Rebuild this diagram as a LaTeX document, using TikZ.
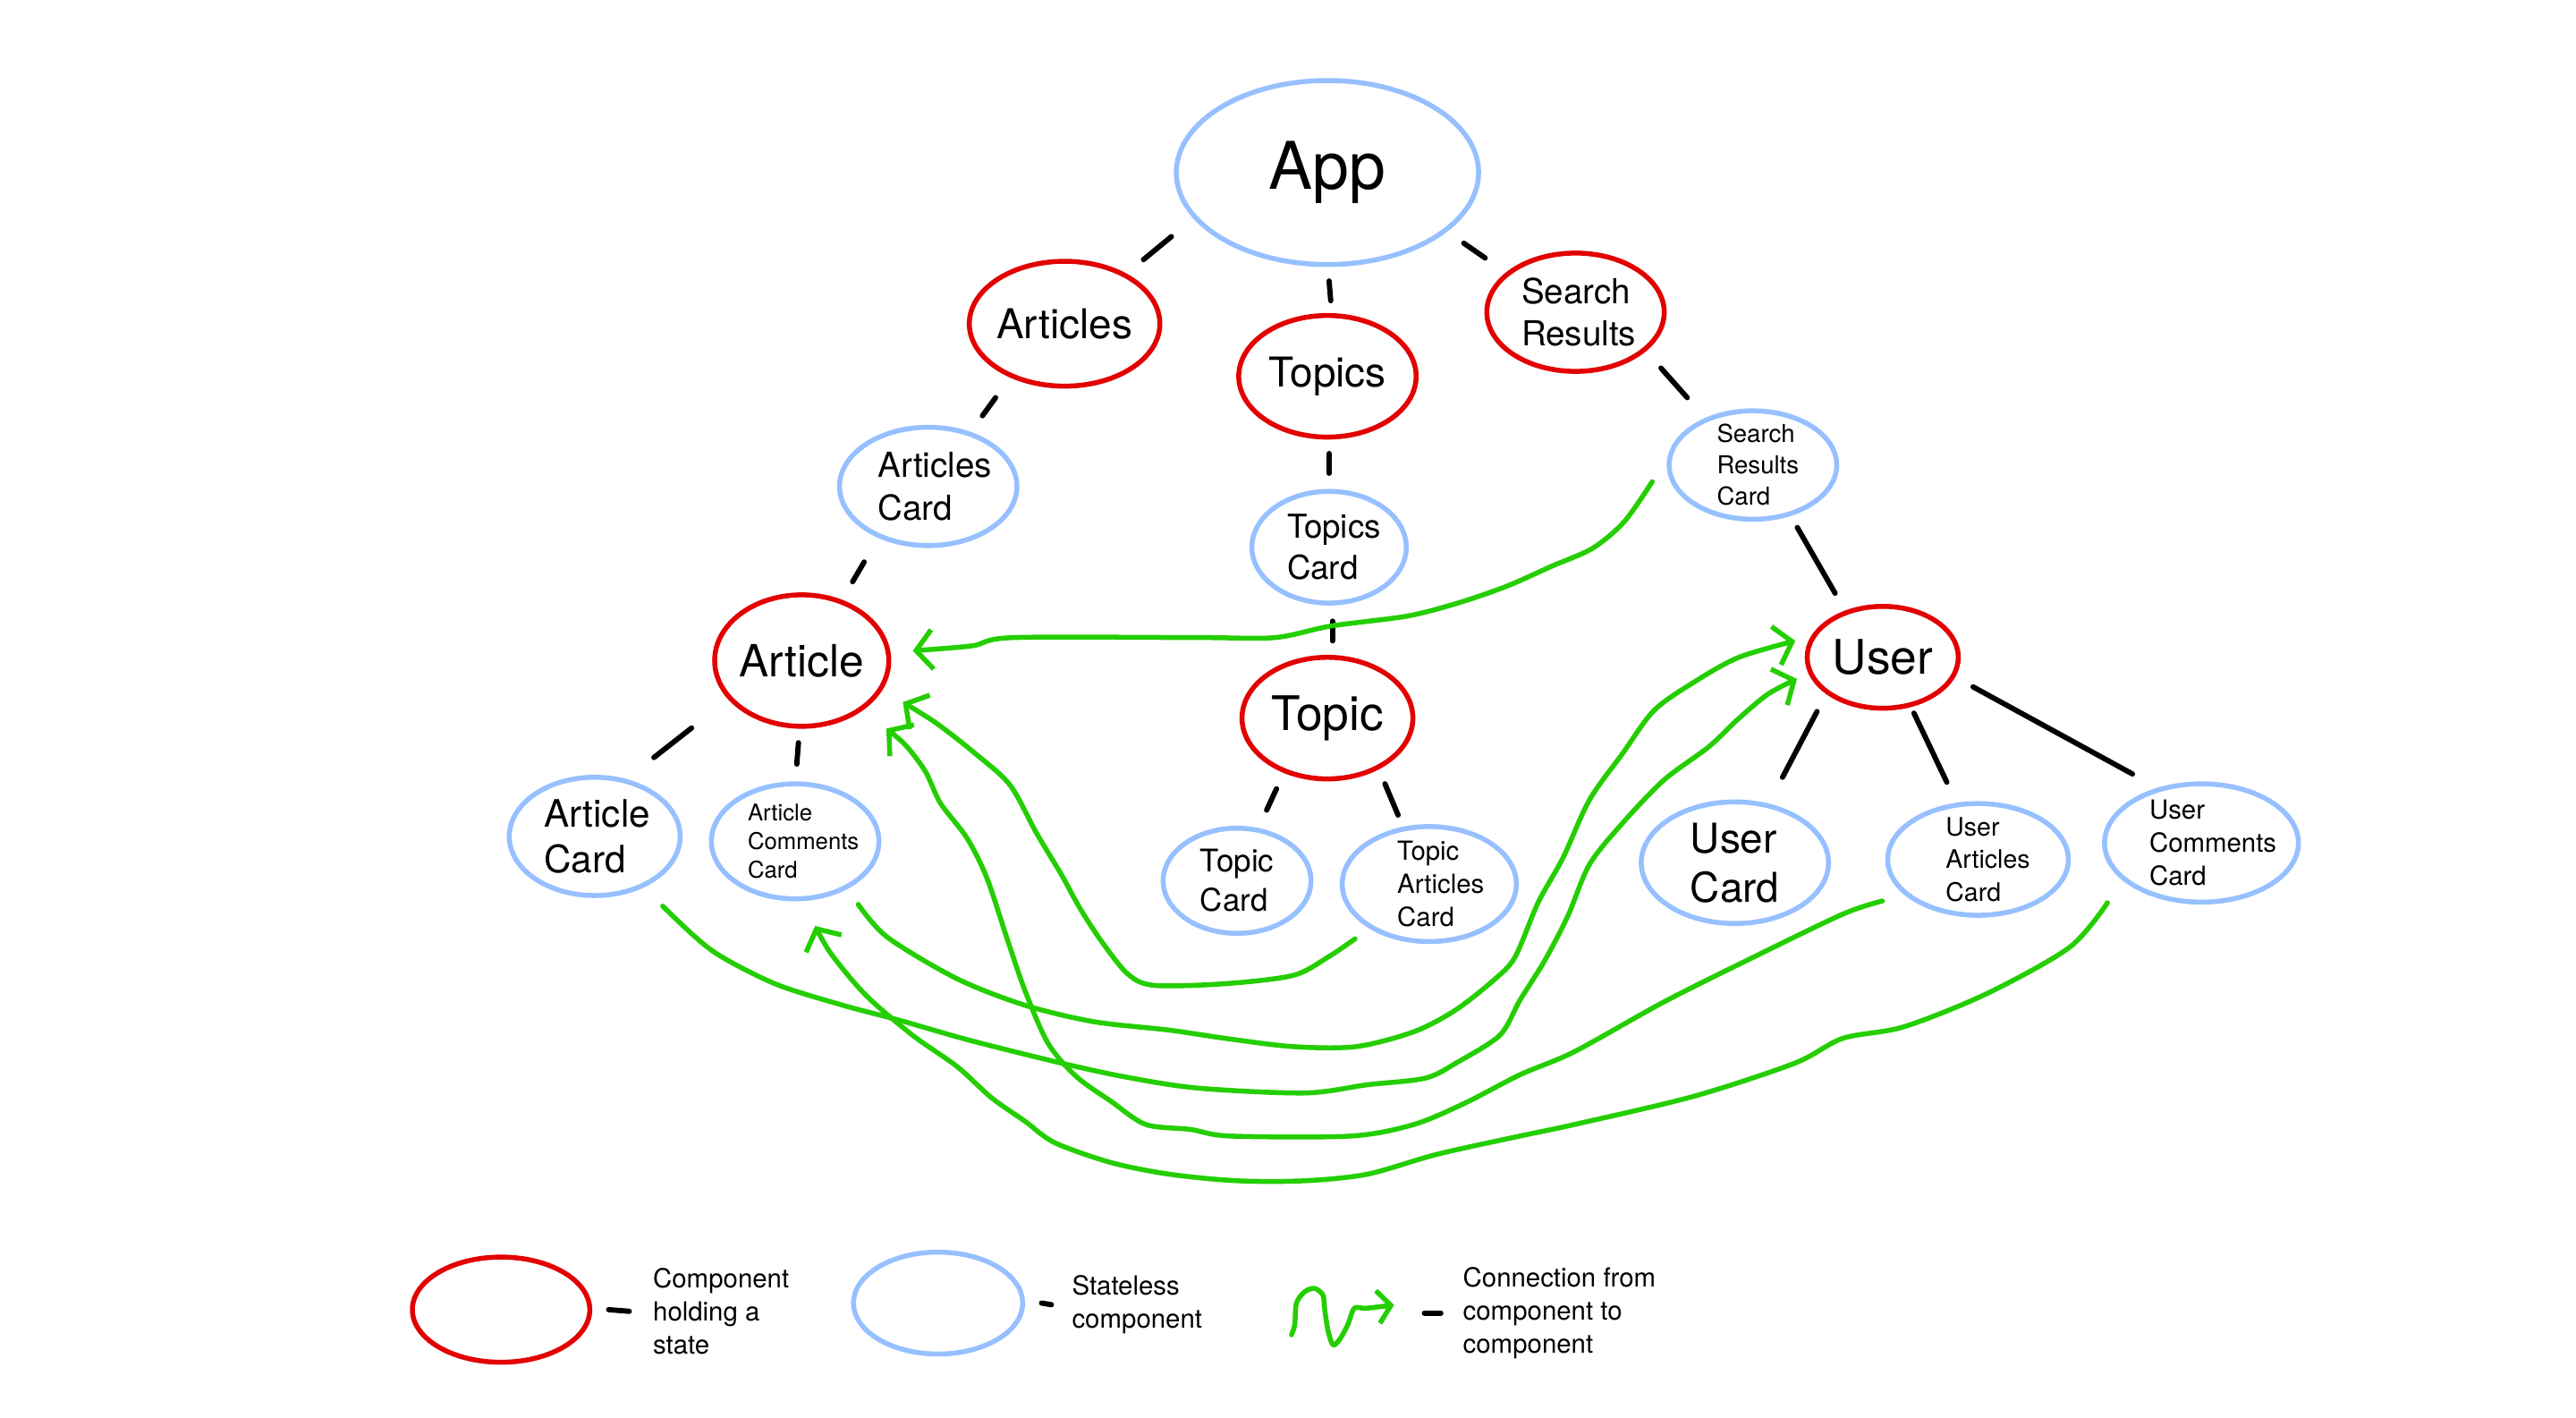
\documentclass[tikz,border=0pt]{standalone}
\usepackage{fontspec}
\setmainfont{TeX Gyre Heros}
\usetikzlibrary{shapes.geometric,arrows.meta,calc}
\definecolor{stred}{RGB}{226,0,0}
\definecolor{slblue}{RGB}{150,192,255}
\definecolor{cngreen}{RGB}{36,206,0}
\newcommand\lpad[1]{\hspace*{#1}}
\begin{document}
\begin{tikzpicture}[x=1pt,y=-1pt,
  fs/.style 2 args={font=\fontsize{#1}{#2}\selectfont},
  comp/.style={ellipse, line width=3pt, inner sep=-12pt, align=left, text=black},
  stateful/.style={comp, draw=stred},
  stateless/.style={comp, draw=slblue},
  edge/.style={line width=3.2pt, line cap=round, black},
  conn/.style={draw=cngreen, line width=3pt, line cap=round, line join=round,
    -{Straight Barb[length=10pt,width=24pt]}},
  legtext/.style={anchor=west, align=left, fs={16}{20}}
]
\useasboundingbox[fill=white] (0,0) rectangle (1568,862.4);

% ---------- components ----------
\node[stateless, minimum width=184pt, minimum height=112pt, fs={40}{48}] (app) at (808,105) {App};
\node[stateful, minimum width=116pt, minimum height=76pt, fs={25}{30}] (articles) at (648,197) {Articles};
\node[stateful, minimum width=108pt, minimum height=74pt, fs={25}{30}] (topics) at (808,229) {Topics};
\node[stateful, minimum width=108pt, minimum height=72pt, fs={21}{26}] (search) at (959,190) {\lpad{4pt}Search\\\lpad{4pt}Results};
\node[stateless, minimum width=108pt, minimum height=72pt, fs={21}{26}] (articlescard) at (565,296) {\lpad{8pt}Articles\\\lpad{8pt}Card};
\node[stateless, minimum width=94pt, minimum height=68pt, fs={20}{25}] (topicscard) at (809,333) {\lpad{6pt}Topics\\\lpad{6pt}Card};
\node[stateless, minimum width=102pt, minimum height=66pt, fs={15}{19}] (src) at (1067,283) {\lpad{6pt}Search\\\lpad{6pt}Results\\\lpad{6pt}Card};
\node[stateful, minimum width=106pt, minimum height=80pt, fs={27}{32}] (article) at (488,402) {Article};
\node[stateful, minimum width=104pt, minimum height=74pt, fs={29}{34}] (topic) at (808,437) {Topic};
\node[stateful, minimum width=92pt, minimum height=62pt, fs={29}{34}] (user) at (1146,400) {User};
\node[stateless, minimum width=104pt, minimum height=72pt, fs={23}{28}] (articlecard) at (362,509) {\lpad{3pt}Article\\\lpad{3pt}Card};
\node[stateless, minimum width=102pt, minimum height=70pt, fs={14}{17.5}] (acc) at (484,512) {\lpad{10pt}Article\\\lpad{10pt}Comments\\\lpad{10pt}Card};
\node[stateless, minimum width=90pt, minimum height=64pt, fs={19}{24}] (topiccard) at (753,536) {Topic\\Card};
\node[stateless, minimum width=106pt, minimum height=70pt, fs={16}{20}] (tac) at (870,538) {\lpad{14pt}Topic\\\lpad{14pt}Articles\\\lpad{14pt}Card};
\node[stateless, minimum width=114pt, minimum height=74pt, fs={25}{30}] (usercard) at (1056,525) {User\\Card};
\node[stateless, minimum width=110pt, minimum height=68pt, fs={15.5}{20}] (uac) at (1204,523) {\lpad{12pt}User\\\lpad{12pt}Articles\\\lpad{12pt}Card};
\node[stateless, minimum width=118pt, minimum height=72pt, fs={16}{20}] (ucc) at (1340,513) {\lpad{14pt}User\\\lpad{14pt}Comments\\\lpad{14pt}Card};

% ---------- hierarchy links ----------
\draw[edge] ([shift={(-95,39)}]app.center) -- ([shift={(48,-39)}]articles.center);
\draw[edge] ([shift={(1,66)}]app.center) -- ([shift={(2,-46)}]topics.center);
\draw[edge] ([shift={(83,43)}]app.center) -- ([shift={(-55,-33)}]search.center);
\draw[edge] ([shift={(-42,45)}]articles.center) -- ([shift={(33,-43)}]articlescard.center);
\draw[edge] ([shift={(1,47)}]topics.center) -- ([shift={(0,-45)}]topicscard.center);
\draw[edge] ([shift={(52,34)}]search.center) -- ([shift={(-40,-41)}]src.center);
\draw[edge] ([shift={(-39,46)}]articlescard.center) -- ([shift={(31,-48)}]article.center);
\draw[edge] ([shift={(2,45)}]topicscard.center) -- ([shift={(3,-47)}]topic.center);
\draw[edge] ([shift={(27,38)}]src.center) -- ([shift={(-29,-39)}]user.center);
\draw[edge] ([shift={(-67,41)}]article.center) -- ([shift={(36,-48)}]articlecard.center);
\draw[edge] ([shift={(-2,50)}]article.center) -- ([shift={(1,-47)}]acc.center);
\draw[edge] ([shift={(-31,43)}]topic.center) -- ([shift={(18,-43)}]topiccard.center);
\draw[edge] ([shift={(35,40)}]topic.center) -- ([shift={(-19,-42)}]tac.center);
\draw[edge] ([shift={(-40,33)}]user.center) -- ([shift={(29,-52)}]usercard.center);
\draw[edge] ([shift={(19,34)}]user.center) -- ([shift={(-19,-47)}]uac.center);
\draw[edge] ([shift={(55,18)}]user.center) -- ([shift={(-42,-42)}]ucc.center);

% ---------- data connections ----------
\begin{scope}[scale=1.0078]
% Search Results Card -> Article
\draw[conn] plot[smooth, tension=0.5] coordinates {([shift={(-61,10)}]src.center) (981,315) (962,331) (937,342) (910,354) (881,364) (850,372) (804,378) (770,385) (724,385) (612,385) (587,390) ([shift={(67,-6)}]article.center)};
% Topic Articles Card -> Article
\draw[conn] plot[smooth, tension=0.5] coordinates {([shift={(-45,33)}]tac.center) (802,578) (781,589) (740,594) (697,595) (681,588) (665,568) (652,548) (641,528) (626,503) (610,474) (589,455) (566,437) ([shift={(61,25)}]article.center)};
% User Articles Card -> Article
\draw[conn] plot[smooth, tension=0.5] coordinates {([shift={(-58,25)}]uac.center) (1113,552) (1059,578) (1005,605) (951,635) (918,649) (885,666) (854,679) (816,686) (743,686) (719,682) (692,679) (671,665) (650,650) (633,630) (619,598) (608,566) (596,530) (584,506) (568,485) (559,466) (547,450) ([shift={(51,41)}]article.center)};
% User Comments Card -> Article Comments Card
\draw[conn] plot[smooth, tension=0.5] coordinates {([shift={(-57,36)}]ucc.center) (1250,572) (1200,600) (1150,620) (1113,627) (1084,642) (1023,662) (951,679) (918,686) (868,697) (826,709) (788,713) (747,713) (706,709) (671,702) (637,690) (619,677) (599,663) (578,644) (551,625) (523,601) (502,576) ([shift={(12,51)}]acc.center)};
% Article Card -> User
\draw[conn] plot[smooth, tension=0.5] coordinates {([shift={(41,42)}]articlecard.center) (430,574) (468,594) (509,607) (543,616) (585,628) (637,641) (678,650) (723,657) (788,660) (826,655) (861,651) (881,641) (906,625) (918,604) (933,580) (947,553) (960,522) (980,497) (1005,471) (1032,451) (1050,434) (1068,419) ([shift={(-52,13)}]user.center)};
% Article Comments Card -> User
\draw[conn] plot[smooth, tension=0.5] coordinates {([shift={(38,38)}]acc.center) (536,566) (578,591) (619,607) (661,617) (706,622) (740,627) (781,632) (819,632) (854,623) (879,610) (902,592) (915,578) (929,545) (944,518) (960,483) (980,455) (999,429) (1023,412) (1050,397) ([shift={(-53,-10)}]user.center)};
% legend sample
\draw[conn, -{Straight Barb[length=8pt,width=20pt]}] plot[smooth, tension=0.5] coordinates {(780,806) (782,800) (783,787) (788,780) (794,778) (799,782) (800,790) (802,803) (805,812) (809,809) (814,800) (818,790) (825,790) (842,788)};
\end{scope}

% ---------- legend ----------
\node[stateful, minimum width=108pt, minimum height=64pt] (legstate) at (305,797) {};
\node[legtext] (legstatetext) at (394,798) {Component\\holding a\\state};
\draw[edge] ([xshift=10pt]legstate.east) -- ([xshift=-11pt]legstatetext.west);

\node[stateless, minimum width=103pt, minimum height=62pt] (legless) at (571,793) {};
\node[legtext] (leglesstext) at (649,794) {Stateless\\component};
\draw[edge] ([xshift=10pt]legless.east) -- ([xshift=-9pt]leglesstext.west);

\node[legtext] (legconntext) at (887,799) {Connection from\\component to\\component};
\draw[edge] ([xshift=-20pt]legconntext.west) -- ([xshift=-10pt]legconntext.west);
\end{tikzpicture}
\end{document}
